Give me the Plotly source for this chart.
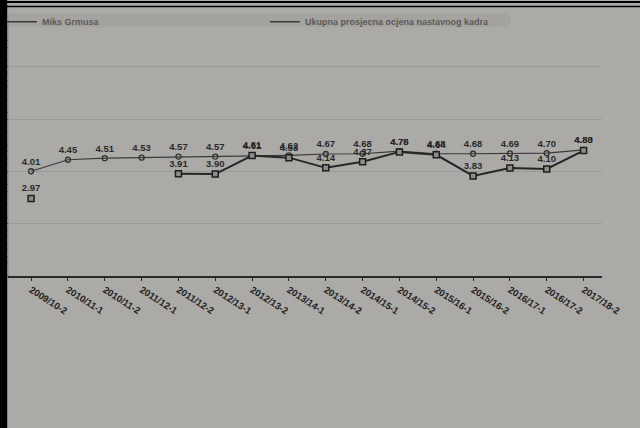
import plotly.graph_objects as go

categories = ["2009/10-2", "2010/11-1", "2010/11-2", "2011/12-1", "2011/12-2",
              "2012/13-1", "2012/13-2", "2013/14-1", "2013/14-2", "2014/15-1",
              "2014/15-2", "2015/16-1", "2015/16-2", "2016/17-1", "2016/17-2",
              "2017/18-2"]
miks_grmusa = [2.97, None, None, None, 3.91, 3.90, 4.61, 4.53, 4.14, 4.37,
               4.75, 4.64, 3.83, 4.13, 4.10, 4.80]
ukupna = [4.01, 4.45, 4.51, 4.53, 4.57, 4.57, 4.61, 4.62, 4.67, 4.68,
          4.78, 4.68, 4.68, 4.69, 4.70, 4.83]

name_miks = "Miks Grmusa"
name_uk = "Ukupna prosjecna ocjena nastavnog kadra"

def fmt(v):
    return "" if v is None else f"{v:.2f}"

bg = "#acaaa7"
lab_font = dict(size=9.5, color="#2a2a2a", family="Liberation Sans", weight="bold")
fig = go.Figure()

fig.add_trace(go.Scatter(
    x=categories, y=ukupna, mode="lines+markers+text",
    text=[fmt(v) for v in ukupna], textposition="top center",
    textfont=lab_font,
    line=dict(color="#3a3a3a", width=1.2),
    marker=dict(symbol="circle-open", size=5, color="#333333", line=dict(width=1.3)),
    showlegend=False, cliponaxis=False))

fig.add_trace(go.Scatter(
    x=categories, y=miks_grmusa, mode="lines+markers+text",
    text=[fmt(v) for v in miks_grmusa], textposition="top center",
    textfont=lab_font,
    line=dict(color="#262626", width=2),
    marker=dict(symbol="square", size=6, color="#8e8c8a", line=dict(color="#1e1e1e", width=1.5)),
    showlegend=False, cliponaxis=False))

# legend entries (line only)
fig.add_trace(go.Scatter(x=[None], y=[None], mode="lines", name=name_miks,
                         line=dict(color="#3a3a3a", width=1.5)))
fig.add_trace(go.Scatter(x=[None], y=[None], mode="lines", name=name_uk,
                         line=dict(color="#3a3a3a", width=1.5)))

fig.update_layout(
    width=640, height=428,
    margin=dict(l=9, r=38, t=15, b=152, autoexpand=False),
    paper_bgcolor=bg, plot_bgcolor="rgba(0,0,0,0)",
    font=dict(family="Liberation Sans", color="#2a2a2a"),
    legend=dict(orientation="h", x=-0.012, xanchor="left", y=1.03, yanchor="top",
                bgcolor="rgba(0,0,0,0)",
                font=dict(size=9, color="#5a5a5a", family="Liberation Sans", weight="bold"),
                entrywidth=218, entrywidthmode="pixels", traceorder="normal",
                itemwidth=30, tracegroupgap=0),
    xaxis=dict(type="category", range=[-0.6, 15.5], showgrid=False, automargin=False,
               showline=True, linecolor="#2a2a2a", linewidth=1.5,
               ticks="outside", ticklen=3, tickcolor="#2a2a2a",
               tickangle=33,
               tickfont=dict(size=9.5, color="#222222", family="Liberation Sans", weight="bold")),
    yaxis=dict(range=[0, 9.99], dtick=2, showgrid=True, gridcolor="#9b9997", automargin=False,
               gridwidth=1, showticklabels=False, zeroline=False,
               showline=True, linecolor="#9b9997",
               ticks="outside", ticklen=4, tickcolor="#555555",
               minor=dict(dtick=0.25, ticks="outside", ticklen=2, tickcolor="#777777")),
)

# legend band and photo border
fig.add_shape(type="rect", xref="paper", yref="paper", x0=-0.0017, x1=0.845, y0=0.954, y1=1.008,
              fillcolor="#a5a3a0", line_width=0, layer="below")
fig.add_shape(type="rect", xref="paper", yref="paper", x0=-0.0152, x1=-0.003, y0=-1, y1=1.1,
              fillcolor="#000000", line_width=0, layer="above")
fig.add_shape(type="line", xref="paper", yref="paper", x0=-0.02, x1=1.1, y0=1.05, y1=1.05,
              line=dict(color="#000000", width=2), layer="above")
fig.add_shape(type="line", xref="paper", yref="paper", x0=-0.02, x1=1.1, y0=1.033, y1=1.033,
              line=dict(color="#000000", width=1.5), layer="above")

fig.write_html("out.html", config={"displayModeBar": False},
               post_script="document.body.style.margin='0';document.body.style.overflow='hidden';")
